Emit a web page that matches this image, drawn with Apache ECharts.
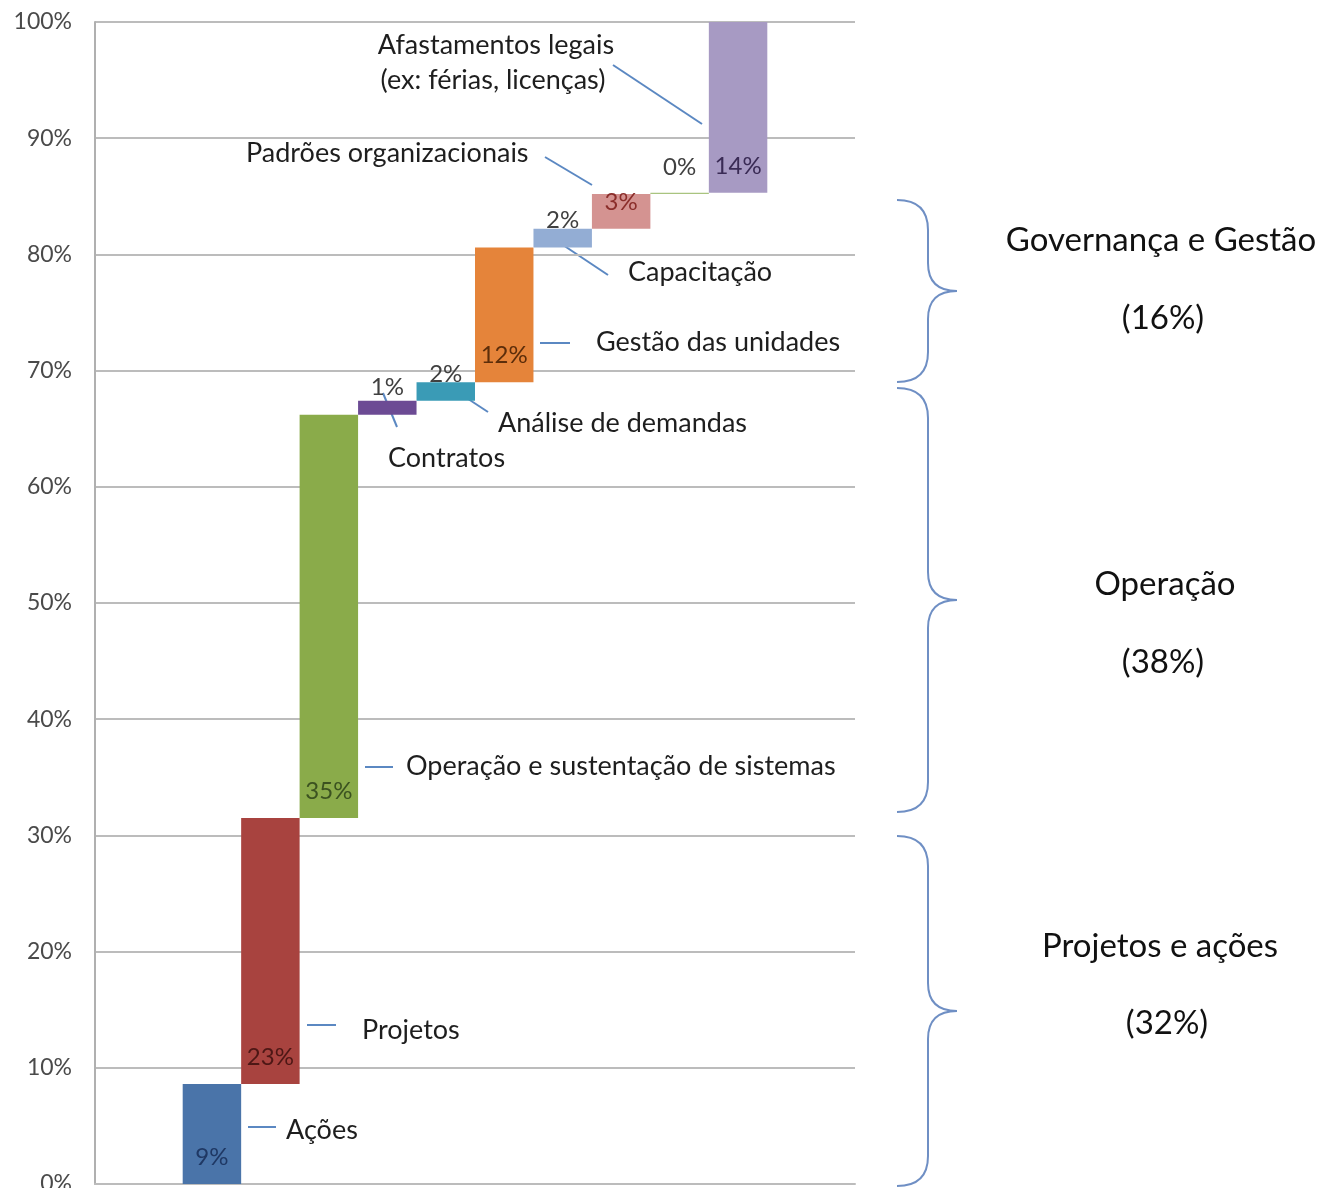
<!DOCTYPE html>
<html>
<head>
<meta charset="utf-8">
<script src="https://cdn.jsdelivr.net/npm/echarts@6/dist/echarts.min.js"></script>
<style>
  html, body { margin: 0; padding: 0; background: #fff; }
  #main { width: 1329px; height: 1188px; }
</style>
</head>
<body>
<div id="main"></div>
<script>
var categories = ['', 'Ações', 'Projetos', 'Operação e sustentação de sistemas', 'Contratos',
    'Análise de demandas', 'Gestão das unidades', 'Capacitação', 'Padrões organizacionais',
    'Outros', 'Afastamentos legais', ''];
var shares = [8.6, 22.9, 34.7, 1.2, 1.6, 11.6, 1.6, 3.0, 0.1, 14.7];
var shareLabels = ['9%', '23%', '35%', '1%', '2%', '12%', '2%', '3%', '0%', '14%'];
var groups = ['Governança e Gestão', 'Operação', 'Projetos e ações'];
var groupShares = ['(16%)', '(38%)', '(32%)'];

var barColors = ['#4a74a9', '#a8433f', '#8aab4a', '#6c4b94', '#3a9bb6', '#e5843a',
    '#93add4', '#d49391', '#a9c47f', '#a79ac3'];
var labelColors = ['#1f3864', '#4d1715', '#3b5220', '#404040', '#404040', '#5c2d0a',
    '#404040', '#8b2e2b', '#404040', '#3a2b55'];

var FONT = 'Lato';
var chart = echarts.init(document.getElementById('main'));

// cumulative base for the waterfall (first and last categories stay empty)
var bases = ['-'];
var tops = ['-'];
var acc = 0;
for (var i = 0; i < shares.length; i++) {
    bases.push(acc);
    tops.push({
        value: shares[i],
        itemStyle: { color: barColors[i] },
        label: { color: labelColors[i], formatter: shareLabels[i] }
    });
    acc += shares[i];
}
bases.push('-');
tops.push('-');

// annotations (pixel layout)
var notes = [
    { t: 'Afastamentos legais', x: 496, y: 45, a: 'center' },
    { t: '(ex: férias, licenças)', x: 493, y: 80, a: 'center' },
    { t: 'Padrões organizacionais', x: 246, y: 153, a: 'left' },
    { t: 'Capacitação', x: 628, y: 272, a: 'left' },
    { t: 'Gestão das unidades', x: 596, y: 342, a: 'left' },
    { t: 'Análise de demandas', x: 498, y: 423, a: 'left' },
    { t: 'Contratos', x: 388, y: 458, a: 'left' },
    { t: 'Operação e sustentação de sistemas', x: 406, y: 766, a: 'left' },
    { t: 'Projetos', x: 362, y: 1030, a: 'left' },
    { t: 'Ações', x: 286, y: 1130, a: 'left' }
];
var leaders = [
    [613, 65, 702, 124], [545, 157, 592, 185], [563, 245, 608, 275],
    [540, 343, 570, 343], [450, 387, 488, 412], [383, 393, 397, 427],
    [365, 767, 393, 767], [307, 1025, 336, 1025], [248, 1127, 276, 1127]
];
var braces = [
    { top: 200, bottom: 382, tx: 1161, ty: 240, px: 1163, py: 318 },
    { top: 388, bottom: 812, tx: 1165, ty: 584, px: 1163, py: 662 },
    { top: 836, bottom: 1186, tx: 1160, ty: 946, px: 1167, py: 1023 }
];

var braceStyle = { stroke: '#6f8fc4', lineWidth: 2, fill: null };
function braceParts(top, bottom) {
    var tip = (top + bottom) / 2;
    var e = 897, s = 928, t = 957;
    var segs = [
        { type: 'bezierCurve', shape: { x1: e, y1: top, cpx1: s, cpy1: top, x2: s, y2: top + 30 } },
        { type: 'line', shape: { x1: s, y1: top + 30, x2: s, y2: tip - 28 } },
        { type: 'bezierCurve', shape: { x1: s, y1: tip - 28, cpx1: s, cpy1: tip, x2: t, y2: tip } },
        { type: 'bezierCurve', shape: { x1: t, y1: tip, cpx1: s, cpy1: tip, x2: s, y2: tip + 28 } },
        { type: 'line', shape: { x1: s, y1: tip + 28, x2: s, y2: bottom - 30 } },
        { type: 'bezierCurve', shape: { x1: s, y1: bottom - 30, cpx1: s, cpy1: bottom, x2: e, y2: bottom } }
    ];
    segs.forEach(function (g) { g.style = braceStyle; });
    return segs;
}

var graphics = [];
notes.forEach(function (n) {
    graphics.push({
        type: 'text', x: n.x, y: n.y,
        style: { text: n.t, fill: '#1e1e1e', font: '27px ' + FONT, textAlign: n.a, textVerticalAlign: 'middle' }
    });
});
leaders.forEach(function (l) {
    graphics.push({
        type: 'line', shape: { x1: l[0], y1: l[1], x2: l[2], y2: l[3] },
        style: { stroke: '#5b88c2', lineWidth: 2 }
    });
});
braces.forEach(function (b, i) {
    graphics = graphics.concat(braceParts(b.top, b.bottom));
    graphics.push({
        type: 'text', x: b.tx, y: b.ty,
        style: { text: groups[i], fill: '#111', font: '33px ' + FONT, textAlign: 'center', textVerticalAlign: 'middle' }
    });
    graphics.push({
        type: 'text', x: b.px, y: b.py,
        style: { text: groupShares[i], fill: '#111', font: '33px ' + FONT, textAlign: 'center', textVerticalAlign: 'middle' }
    });
});

var hidden = { show: false };

chart.setOption({
    backgroundColor: '#fff',
    animation: false,
    grid: [
        { left: 95, right: 474, top: 22, bottom: 4, outerBoundsMode: 'none' },
        { left: 124.23, right: 503.23, top: 22, bottom: 4, outerBoundsMode: 'none' }
    ],
    xAxis: [
        {
            gridIndex: 0,
            type: 'value',
            min: 0,
            max: 1,
            axisLabel: hidden,
            axisTick: hidden,
            splitLine: hidden,
            axisLine: { show: true, lineStyle: { color: '#bcbcbc', width: 2 } }
        },
        {
            gridIndex: 1,
            type: 'category',
            data: categories,
            show: false
        }
    ],
    yAxis: [
        {
            gridIndex: 0,
            type: 'value',
            min: 0,
            max: 100,
            interval: 10,
            axisLine: { show: true, onZero: false, lineStyle: { color: '#b0b0b0', width: 2 } },
            axisTick: hidden,
            axisLabel: { formatter: '{value}%', color: '#4a4a4a', fontFamily: FONT, fontSize: 23, margin: 23 },
            splitLine: { lineStyle: { color: '#bcbcbc', width: 2 } }
        },
        {
            gridIndex: 1,
            type: 'value',
            min: 0,
            max: 100,
            show: false
        }
    ],
    series: [
        {
            type: 'bar',
            xAxisIndex: 1,
            yAxisIndex: 1,
            stack: 'w',
            barCategoryGap: 0,
            data: bases,
            itemStyle: { color: 'transparent' },
            silent: true
        },
        {
            type: 'bar',
            xAxisIndex: 1,
            yAxisIndex: 1,
            stack: 'w',
            barCategoryGap: 0,
            data: tops,
            label: {
                show: true,
                position: 'insideBottom',
                distance: 15,
                fontFamily: FONT,
                fontSize: 24
            }
        }
    ],
    graphic: graphics
});
</script>
</body>
</html>
